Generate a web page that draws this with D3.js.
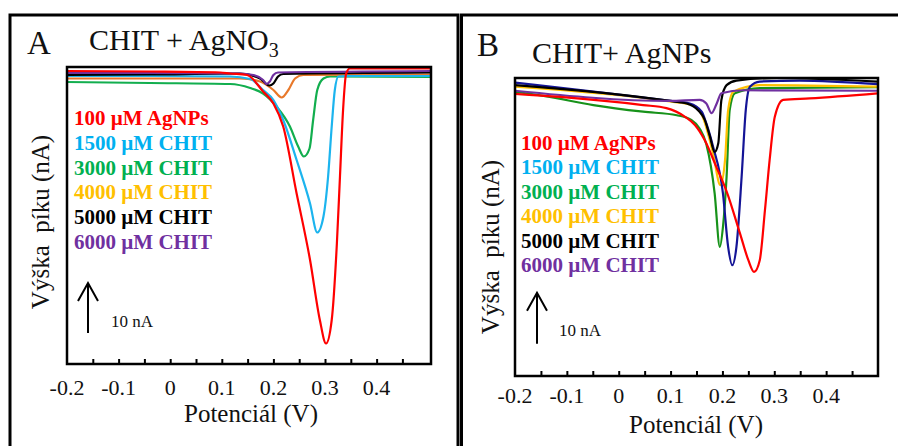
<!DOCTYPE html>
<html>
<head>
<meta charset="utf-8">
<script src="https://cdn.jsdelivr.net/npm/d3@7"></script>
<style>
  html, body { margin: 0; padding: 0; background: #fff; }
  svg { display: block; }
  text { font-family: "Liberation Serif", "Times New Roman", serif; }
</style>
</head>
<body>
<svg id="fig" width="898" height="446"></svg>
<script>
// Potential axis labels and minor tick positions (V)
const potentialLabels = [-0.2, -0.1, 0, 0.1, 0.2, 0.3, 0.4];
const potentialTicks = [-0.15, -0.1, -0.05, 0, 0.05, 0.1, 0.15, 0.2, 0.25, 0.3, 0.35, 0.4, 0.45];

// Legend entries (shared by both panels)
const seriesNames = ["100 µM AgNPs", "1500 µM CHIT", "3000 µM CHIT", "4000 µM CHIT", "5000 µM CHIT", "6000 µM CHIT"];
const legendColors = ["#FF0000", "#00B0F0", "#00B050", "#FFC000", "#000000", "#7030A0"];

// Line colours of each panel
const colorsA = ["#FF0000", "#1CB4EE", "#12AE4E", "#E8782A", "#000000", "#7030A0"];
const colorsB = ["#FF0000", "#141496", "#17921A", "#FFC000", "#000000", "#7030A0"];

// Panel A: CHIT + AgNO3 — [potential (V), current (nA)]
const a_agnps100 = [[-0.2,-0.8],[-0.039,-0.9],[0.097,-1.1],[0.116,-1.3],[0.149,-1.6],[0.180,-4.9],[0.200,-7.3],[0.219,-11.9],[0.245,-25.3],[0.271,-38.6],[0.290,-50.6],[0.302,-55.3],[0.313,-50.6],[0.323,-35.3],[0.329,-21.9],[0.335,-8.6],[0.341,-1.3],[0.348,-0.3],[0.505,-0.3]];
const a_chit1500 = [[-0.2,-1.8],[-0.039,-1.8],[0.116,-1.9],[0.155,-2.4],[0.180,-4.6],[0.200,-6.6],[0.219,-10.6],[0.245,-18.6],[0.271,-27.3],[0.285,-33.1],[0.297,-29.9],[0.306,-21.9],[0.313,-11.9],[0.319,-4.6],[0.326,-1.9],[0.339,-1.8],[0.505,-1.8]];
const a_chit3000 = [[-0.2,-3.0],[-0.039,-3.2],[0.116,-3.4],[0.155,-4.2],[0.180,-5.3],[0.206,-7.9],[0.232,-11.9],[0.248,-15.9],[0.259,-17.9],[0.270,-16.3],[0.277,-10.6],[0.285,-4.6],[0.297,-2.3],[0.310,-1.9],[0.505,-2.0]];
const a_chit4000 = [[-0.2,-2.3],[-0.039,-2.3],[0.097,-2.3],[0.135,-2.3],[0.174,-2.9],[0.200,-4.6],[0.216,-6.1],[0.229,-4.6],[0.242,-2.3],[0.258,-1.6],[0.505,-1.5]];
const a_chit5000 = [[-0.2,-1.6],[-0.039,-1.5],[0.135,-1.3],[0.174,-2.3],[0.192,-3.7],[0.200,-3.3],[0.209,-1.9],[0.219,-1.4],[0.505,-1.1]];
const a_chit6000 = [[-0.2,-1.2],[-0.039,-1.2],[0.135,-1.3],[0.161,-1.6],[0.180,-2.6],[0.187,-3.4],[0.193,-2.9],[0.200,-1.6],[0.209,-1.1],[0.505,-0.8]];

// Panel B: CHIT + AgNPs — [potential (V), current (nA)]
const b_agnps100 = [[-0.2,-3.1],[-0.113,-3.7],[0.047,-5.3],[0.092,-5.9],[0.128,-7.6],[0.147,-9.2],[0.166,-12.2],[0.189,-17.6],[0.208,-22.2],[0.234,-30.5],[0.250,-35.7],[0.261,-38.0],[0.272,-35.7],[0.282,-25.9],[0.291,-16.1],[0.301,-7.6],[0.317,-4.3],[0.368,-4.0],[0.499,-3.0]];
const b_chit1500 = [[-0.2,-0.9],[0.099,-4.5],[0.137,-5.0],[0.160,-6.6],[0.169,-8.9],[0.182,-13.5],[0.201,-22.6],[0.211,-33.1],[0.219,-36.7],[0.227,-33.1],[0.237,-19.4],[0.245,-6.3],[0.253,-1.7],[0.272,-0.7],[0.349,-0.5],[0.499,-1.2]];
const b_chit3000 = [[-0.2,-2.7],[-0.145,-3.5],[-0.049,-5.3],[0.047,-6.6],[0.112,-7.3],[0.140,-8.2],[0.156,-9.9],[0.169,-13.0],[0.185,-22.6],[0.195,-33.1],[0.201,-29.2],[0.208,-19.4],[0.214,-6.3],[0.224,-3.0],[0.272,-2.0],[0.499,-1.8]];
const b_chit4000 = [[-0.2,-1.7],[0.099,-4.6],[0.143,-5.3],[0.162,-7.6],[0.182,-14.8],[0.196,-21.0],[0.205,-16.1],[0.211,-6.3],[0.221,-2.7],[0.272,-1.4],[0.499,-1.7]];
const b_chit5000 = [[-0.2,-1.4],[0.099,-4.5],[0.131,-5.0],[0.153,-6.3],[0.166,-8.2],[0.176,-11.5],[0.185,-14.5],[0.192,-12.8],[0.198,-4.3],[0.208,-1.4],[0.227,-0.5],[0.304,0.0],[0.499,-0.7]];
const b_chit6000 = [[-0.2,-2.5],[0.099,-4.5],[0.156,-4.3],[0.169,-5.0],[0.179,-6.9],[0.189,-5.0],[0.198,-3.0],[0.240,-2.4],[0.499,-2.5]];

const panels = [
  {
    letter: "A", title: "CHIT + AgNO", sub: "3",
    frame: {x: 10, y: 15, w: 448, h: 520},
    letterPos: [27, 54], titlePos: [89, 50],
    plot: {l: 67, t: 67, r: 431, b: 364},
    xDomain: [-0.2, 0.5054], yDomain: [-59.4, 0],
    series: [a_agnps100, a_chit1500, a_chit3000, a_chit4000, a_chit5000, a_chit6000],
    colors: colorsA,
    legend: {x: 74, y0: 125, dy: 24.8},
    bar: {x: 88, base: -53.2, textX: 111, textY: 327},
    yTitle: [40, 222],
    tickLabelY: 395, xTitle: [251, 422]
  },
  {
    letter: "B", title: "CHIT+ AgNPs", sub: "",
    frame: {x: 461.5, y: 15, w: 520, h: 520},
    letterPos: [477, 56], titlePos: [532, 63],
    plot: {l: 515, t: 78, r: 878, b: 376},
    xDomain: [-0.2, 0.5], yDomain: [-58.4, 0],
    series: [b_agnps100, b_chit1500, b_chit3000, b_chit4000, b_chit5000, b_chit6000],
    colors: colorsB,
    legend: {x: 521, y0: 150, dy: 24.4},
    bar: {x: 537, base: -52.1, textX: 559, textY: 336},
    yTitle: [490, 247],
    tickLabelY: 403, xTitle: [696, 433]
  }
];

const svg = d3.select("#fig");
const fmt = v => v === 0 ? "0" : (v < 0 ? "-" : "") + Math.abs(v).toFixed(1);

panels.forEach(p => {
  const g = svg.append("g");

  // outer panel frame
  g.append("rect")
    .attr("x", p.frame.x).attr("y", p.frame.y)
    .attr("width", p.frame.w).attr("height", p.frame.h)
    .attr("fill", "none").attr("stroke", "#000").attr("stroke-width", 3);

  // panel letter and title
  g.append("text").attr("x", p.letterPos[0]).attr("y", p.letterPos[1])
    .attr("font-size", 33).attr("fill", "#111").text(p.letter);
  const t = g.append("text").attr("x", p.titlePos[0]).attr("y", p.titlePos[1])
    .attr("font-size", 30).attr("fill", "#111").text(p.title);
  if (p.sub) t.append("tspan").attr("font-size", 20).attr("dy", 7).text(p.sub);

  const x = d3.scaleLinear().domain(p.xDomain).range([p.plot.l, p.plot.r]);
  const y = d3.scaleLinear().domain(p.yDomain).range([p.plot.b, p.plot.t]);

  // curves, drawn so that the first series ends on top
  const line = d3.line().x(d => x(d[0])).y(d => y(d[1])).curve(d3.curveMonotoneX);
  const order = [2, 3, 1, 4, 5, 0];
  const plotArea = g.append("g");
  order.forEach(i => {
    plotArea.append("path")
      .attr("d", line(p.series[i]))
      .attr("fill", "none")
      .attr("stroke", p.colors[i])
      .attr("stroke-width", 2.2)
      .attr("stroke-linejoin", "round");
  });

  // plot frame
  g.append("rect")
    .attr("x", p.plot.l).attr("y", p.plot.t)
    .attr("width", p.plot.r - p.plot.l).attr("height", p.plot.b - p.plot.t)
    .attr("fill", "none").attr("stroke", "#000").attr("stroke-width", 2.5);

  // bottom axis with inward ticks
  const axis = g.append("g")
    .attr("transform", `translate(0,${p.plot.b})`)
    .call(d3.axisBottom(x).tickValues(potentialTicks).tickSize(-5).tickFormat(""));
  axis.select(".domain").remove();
  axis.selectAll(".tick line").attr("stroke", "#000").attr("stroke-width", 2);

  // tick labels
  g.selectAll("text.tl").data(potentialLabels).join("text")
    .attr("class", "tl")
    .attr("x", d => x(d)).attr("y", p.tickLabelY)
    .attr("text-anchor", "middle").attr("font-size", 22).attr("fill", "#111")
    .text(fmt);

  // axis titles
  g.append("text").attr("x", p.xTitle[0]).attr("y", p.xTitle[1])
    .attr("text-anchor", "middle").attr("font-size", 25).attr("fill", "#111")
    .text("Potenciál (V)");
  g.append("text")
    .attr("transform", `translate(${p.yTitle[0]},${p.yTitle[1]}) rotate(-90)`)
    .attr("text-anchor", "middle").attr("dominant-baseline", "central")
    .attr("font-size", 25).attr("fill", "#111")
    .attr("xml:space", "preserve")
    .text("Výška  píku (nA)");

  // legend
  g.selectAll("text.lg").data(seriesNames).join("text")
    .attr("class", "lg")
    .attr("x", p.legend.x)
    .attr("y", (d, i) => p.legend.y0 + i * p.legend.dy)
    .attr("font-size", 21).attr("font-weight", "bold")
    .attr("fill", (d, i) => legendColors[i])
    .text(d => d);

  // 10 nA scale bar
  const y0 = y(p.bar.base), y1 = y(p.bar.base + 10);
  const bar = g.append("g").attr("stroke", "#000").attr("stroke-width", 2).attr("fill", "none");
  bar.append("line").attr("x1", p.bar.x).attr("x2", p.bar.x).attr("y1", y0).attr("y2", y1);
  bar.append("polyline")
    .attr("points", `${p.bar.x - 10},${y1 + 18} ${p.bar.x},${y1} ${p.bar.x + 10},${y1 + 18}`);
  g.append("text").attr("x", p.bar.textX).attr("y", p.bar.textY)
    .attr("font-size", 17).attr("fill", "#111").text("10 nA");
});
</script>
</body>
</html>
